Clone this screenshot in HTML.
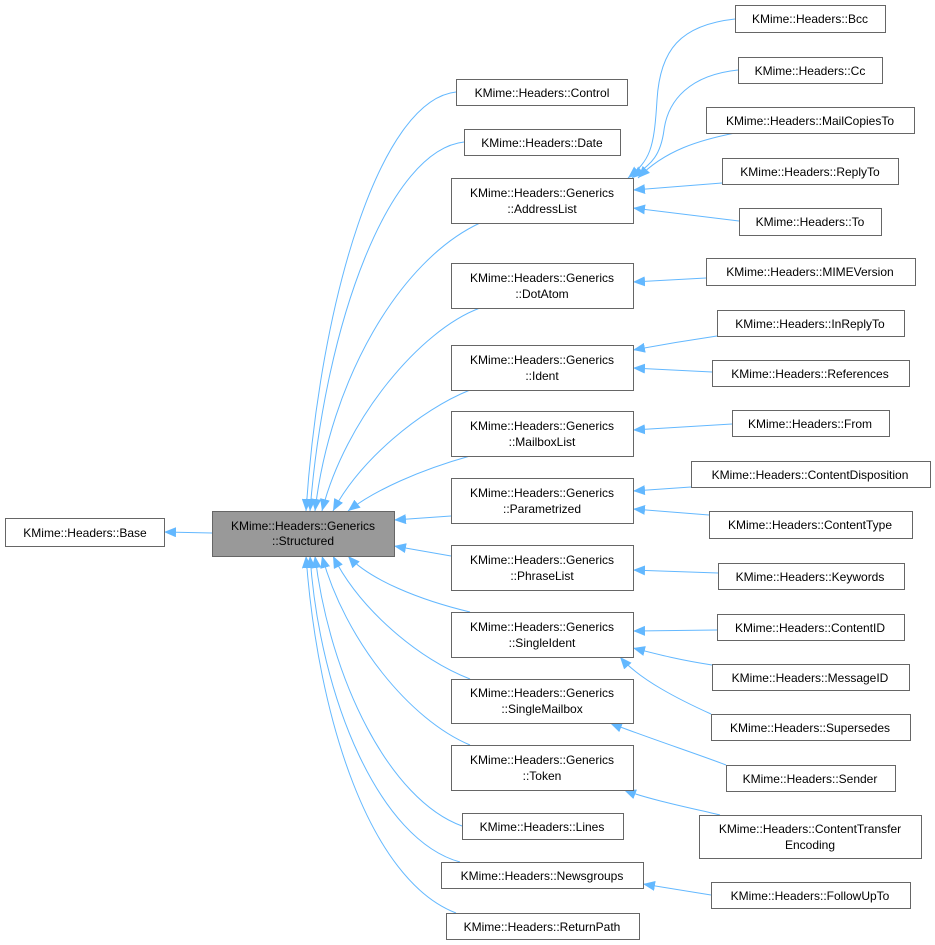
<!DOCTYPE html>
<html><head><meta charset="utf-8"><style>
html,body{margin:0;padding:0;background:#fff;}
svg{display:block;}
text{font-family:"Liberation Sans",Helvetica,sans-serif;font-size:12px;fill:#000;text-anchor:middle;}
rect{fill:#fff;stroke:#666;stroke-width:1;}
path{fill:none;stroke:#63b8ff;stroke-width:1;}
</style></head><body>
<svg width="935" height="945" viewBox="0 0 935 945" xmlns="http://www.w3.org/2000/svg">
<defs><marker id="a" viewBox="0 0 12 10" refX="12" refY="5" markerWidth="12" markerHeight="10" markerUnits="userSpaceOnUse" orient="auto"><polygon points="0,0 12,5 0,10" fill="#63b8ff"/></marker></defs>
<g marker-end="url(#a)">
<path d="M212,533 L164,532"/>
<path d="M456,92 C380,100 320,300 306,511"/>
<path d="M464,142 C390,150 325,320 310,511"/>
<path d="M480,223 C400,260 330,380 315,511"/>
<path d="M480,308 C420,330 345,420 322,511"/>
<path d="M470,390 C420,410 360,460 333,511"/>
<path d="M470,456 C420,470 375,490 348,511"/>
<path d="M451,516 L394,520"/>
<path d="M451,556 L394,546"/>
<path d="M470,612 C420,600 370,580 348,556"/>
<path d="M470,679 C420,660 360,610 333,556"/>
<path d="M470,745 C410,720 345,640 322,556"/>
<path d="M462,826 C390,800 330,680 315,556"/>
<path d="M460,862 C380,840 320,700 310,556"/>
<path d="M456,913 C370,880 318,720 306,556"/>
<path d="M735,19 C680,25 660,50 657,100 C654,150 650,160 628,178"/>
<path d="M738,70 C690,75 668,100 664,130 C660,160 648,165 632,178"/>
<path d="M735,133 C700,140 665,150 638,178"/>
<path d="M722,183 L633,190"/>
<path d="M739,221 L633,208"/>
<path d="M706,278 L633,282"/>
<path d="M717,336 C690,340 660,345 633,350"/>
<path d="M712,372 L633,368"/>
<path d="M732,424 L633,430"/>
<path d="M691,487 L633,491"/>
<path d="M709,515 L633,509"/>
<path d="M718,573 L633,570"/>
<path d="M717,630 L633,631"/>
<path d="M712,665 C680,660 660,655 633,648"/>
<path d="M711,714 C680,700 640,680 620,657"/>
<path d="M726,765 C700,755 640,735 610,723"/>
<path d="M720,815 C700,810 650,800 624,790"/>
<path d="M711,895 L643,884"/>
</g>
<rect x="5.5" y="518.5" width="159" height="28"/><text x="85" y="537">KMime::Headers::Base</text>
<rect x="212.5" y="511.5" width="182" height="45" style="fill:#999"/><text x="303" y="530">KMime::Headers::Generics</text><text x="303" y="545">::Structured</text>
<rect x="456.5" y="79.5" width="171" height="26"/><text x="542" y="97">KMime::Headers::Control</text>
<rect x="464.5" y="129.5" width="156" height="26"/><text x="542" y="147">KMime::Headers::Date</text>
<rect x="451.5" y="178.5" width="182" height="45"/><text x="542" y="197">KMime::Headers::Generics</text><text x="542" y="213">::AddressList</text>
<rect x="451.5" y="263.5" width="182" height="45"/><text x="542" y="282">KMime::Headers::Generics</text><text x="542" y="298">::DotAtom</text>
<rect x="451.5" y="345.5" width="182" height="45"/><text x="542" y="364">KMime::Headers::Generics</text><text x="542" y="380">::Ident</text>
<rect x="451.5" y="411.5" width="182" height="45"/><text x="542" y="430">KMime::Headers::Generics</text><text x="542" y="446">::MailboxList</text>
<rect x="451.5" y="478.5" width="182" height="45"/><text x="542" y="497">KMime::Headers::Generics</text><text x="542" y="513">::Parametrized</text>
<rect x="451.5" y="545.5" width="182" height="45"/><text x="542" y="564">KMime::Headers::Generics</text><text x="542" y="580">::PhraseList</text>
<rect x="451.5" y="612.5" width="182" height="45"/><text x="542" y="631">KMime::Headers::Generics</text><text x="542" y="647">::SingleIdent</text>
<rect x="451.5" y="679.5" width="182" height="44"/><text x="542" y="697">KMime::Headers::Generics</text><text x="542" y="713">::SingleMailbox</text>
<rect x="451.5" y="745.5" width="182" height="45"/><text x="542" y="764">KMime::Headers::Generics</text><text x="542" y="780">::Token</text>
<rect x="462.5" y="813.5" width="161" height="26"/><text x="542" y="831">KMime::Headers::Lines</text>
<rect x="441.5" y="862.5" width="202" height="26"/><text x="542" y="880">KMime::Headers::Newsgroups</text>
<rect x="446.5" y="913.5" width="193" height="26"/><text x="542" y="931">KMime::Headers::ReturnPath</text>
<rect x="735.5" y="5.5" width="150" height="27"/><text x="810" y="23">KMime::Headers::Bcc</text>
<rect x="738.5" y="57.5" width="144" height="26"/><text x="810" y="75">KMime::Headers::Cc</text>
<rect x="706.5" y="107.5" width="208" height="26"/><text x="810" y="125">KMime::Headers::MailCopiesTo</text>
<rect x="722.5" y="158.5" width="176" height="26"/><text x="810" y="176">KMime::Headers::ReplyTo</text>
<rect x="739.5" y="208.5" width="142" height="27"/><text x="810" y="226">KMime::Headers::To</text>
<rect x="706.5" y="258.5" width="209" height="27"/><text x="810" y="276">KMime::Headers::MIMEVersion</text>
<rect x="717.5" y="310.5" width="187" height="26"/><text x="810" y="328">KMime::Headers::InReplyTo</text>
<rect x="712.5" y="360.5" width="197" height="26"/><text x="810" y="378">KMime::Headers::References</text>
<rect x="732.5" y="410.5" width="157" height="26"/><text x="810" y="428">KMime::Headers::From</text>
<rect x="691.5" y="461.5" width="239" height="26"/><text x="810" y="479">KMime::Headers::ContentDisposition</text>
<rect x="709.5" y="511.5" width="203" height="27"/><text x="810" y="529">KMime::Headers::ContentType</text>
<rect x="718.5" y="563.5" width="186" height="26"/><text x="810" y="581">KMime::Headers::Keywords</text>
<rect x="717.5" y="614.5" width="187" height="26"/><text x="810" y="632">KMime::Headers::ContentID</text>
<rect x="712.5" y="664.5" width="197" height="26"/><text x="810" y="682">KMime::Headers::MessageID</text>
<rect x="711.5" y="714.5" width="199" height="26"/><text x="810" y="732">KMime::Headers::Supersedes</text>
<rect x="726.5" y="765.5" width="169" height="26"/><text x="810" y="783">KMime::Headers::Sender</text>
<rect x="699.5" y="815.5" width="222" height="43"/><text x="810" y="833">KMime::Headers::ContentTransfer</text><text x="810" y="849">Encoding</text>
<rect x="711.5" y="882.5" width="199" height="26"/><text x="810" y="900">KMime::Headers::FollowUpTo</text>
</svg>
</body></html>
